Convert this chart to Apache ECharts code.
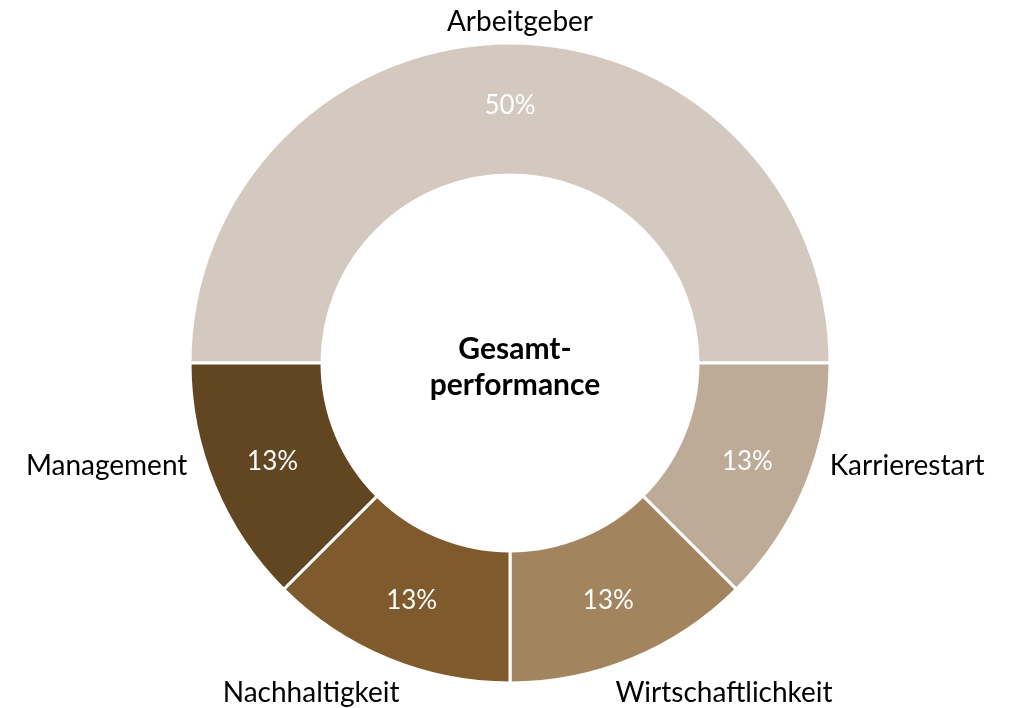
<!DOCTYPE html>
<html>
<head>
    <meta charset="utf-8">
    <title>Gesamtperformance</title>
    <script src="https://cdn.jsdelivr.net/npm/echarts@6/dist/echarts.min.js"></script>
    <style>
        html, body { margin: 0; padding: 0; background: #fff; }
        #main { width: 1028px; height: 708px; }
    </style>
</head>
<body>
    <div id="main"></div>
    <script type="text/javascript">
        // Daten
        var categories = ['Arbeitgeber', 'Karrierestart', 'Wirtschaftlichkeit', 'Nachhaltigkeit', 'Management'];
        var values = [50, 12.5, 12.5, 12.5, 12.5];
        var valueLabels = ['50%', '13%', '13%', '13%', '13%'];
        var colors = ['#d3c9bf', '#bdab97', '#a2855f', '#7f5a2c', '#624621'];

        var cx = 510, cy = 363, rIn = 188, rOut = 320;
        // Versatz der Kategorienamen vom Außenrand (dx, dy, Ausrichtung)
        var labelOffsets = [
            [10, -21, 'center'],
            [24, -19, 'left'],
            [-17, 34, 'left'],
            [12, 34, 'right'],
            [-27, -19, 'right']
        ];

        var myChart = echarts.init(document.getElementById('main'));

        var total = values.reduce(function (a, b) { return a + b; }, 0);
        var midAngles = [];
        var acc = 0;
        values.forEach(function (v) {
            // Start links (180°), im Uhrzeigersinn
            var mid = 180 - (acc + v / 2) / total * 360;
            midAngles.push(mid * Math.PI / 180);
            acc += v;
        });

        var pieData = categories.map(function (name, i) {
            return { name: name, value: values[i], itemStyle: { color: colors[i] } };
        });
        var labelData = categories.map(function (name, i) {
            return { name: name, value: values[i] };
        });

        var option = {
            animation: false,
            title: {
                text: 'Gesamt-\nperformance',
                left: 510,
                top: 326,
                textAlign: 'center',
                textStyle: {
                    fontFamily: 'Lato',
                    fontWeight: 'bold',
                    fontSize: 30,
                    lineHeight: 36,
                    color: '#000'
                }
            },
            series: [
                {
                    type: 'pie',
                    center: [cx, cy],
                    radius: [rIn, rOut],
                    startAngle: 180,
                    clockwise: true,
                    silent: true,
                    itemStyle: { borderColor: '#fff', borderWidth: 3 },
                    label: {
                        position: 'inside',
                        fontFamily: 'Lato',
                        fontSize: 26,
                        color: '#fff',
                        formatter: function (p) { return valueLabels[p.dataIndex]; }
                    },
                    labelLine: { show: false },
                    data: pieData
                },
                {
                    type: 'pie',
                    center: [cx, cy],
                    radius: [rIn, rOut],
                    startAngle: 180,
                    clockwise: true,
                    silent: true,
                    itemStyle: { color: 'transparent' },
                    label: {
                        position: 'outside',
                        overflow: 'none',
                        fontFamily: 'Lato',
                        fontSize: 28,
                        color: '#000',
                        formatter: '{b}'
                    },
                    labelLine: { show: false },
                    labelLayout: function (p) {
                        var i = p.dataIndex;
                        var a = midAngles[i];
                        var off = labelOffsets[i];
                        return {
                            x: cx + rOut * Math.cos(a) + off[0],
                            y: cy - rOut * Math.sin(a) + off[1],
                            align: off[2],
                            verticalAlign: 'middle'
                        };
                    },
                    data: labelData
                }
            ]
        };
        myChart.setOption(option);
    </script>
</body>
</html>
